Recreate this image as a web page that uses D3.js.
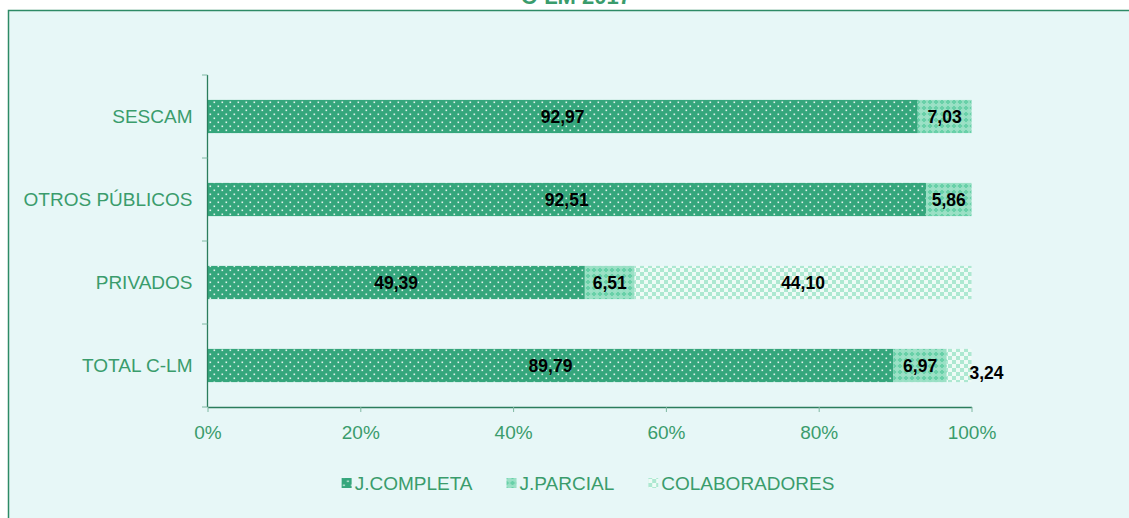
<!DOCTYPE html>
<html>
<head>
<meta charset="utf-8">
<script src="https://cdn.jsdelivr.net/npm/d3@7"></script>
<style>
  html, body { margin: 0; padding: 0; background: #ffffff; }
  svg { display: block; font-family: "Liberation Sans", Arial, sans-serif; }
</style>
</head>
<body>
<div id="chart"></div>
<script>
// data
const categories = ["SESCAM", "OTROS PÚBLICOS", "PRIVADOS", "TOTAL C-LM"];
const series = ["J.COMPLETA", "J.PARCIAL", "COLABORADORES"];
const completa = [92.97, 92.51, 49.39, 89.79];
const parcial = [7.03, 5.86, 6.51, 6.97];
const colaboradores = [0, 0, 44.10, 3.24];
const xTicks = [0, 20, 40, 60, 80, 100];
const title = "C-LM 2017";

const W = 1129, H = 518;
const green = "#3a9c6c";
const axisColor = "#2b7d5c";
const fontSize = 19;

const svg = d3.select("#chart").append("svg")
  .attr("width", W)
  .attr("height", H);

// patterns for the three series
const defs = svg.append("defs");

const p1 = defs.append("pattern").attr("id", "pat0")
  .attr("patternUnits", "userSpaceOnUse").attr("width", 8).attr("height", 8);
p1.append("rect").attr("width", 8).attr("height", 8).attr("fill", "#35a67c");
p1.append("rect").attr("x", 1.5).attr("y", 1.5).attr("width", 1.6).attr("height", 1.6).attr("fill", "#ffffff").attr("opacity", 0.85);
p1.append("rect").attr("x", 5.5).attr("y", 5.5).attr("width", 1.6).attr("height", 1.6).attr("fill", "#ffffff").attr("opacity", 0.85);

const p2 = defs.append("pattern").attr("id", "pat1")
  .attr("patternUnits", "userSpaceOnUse").attr("width", 6).attr("height", 6);
p2.append("rect").attr("width", 6).attr("height", 6).attr("fill", "#68d0a8");
p2.append("path").attr("d", "M3,0.5 L5.5,3 L3,5.5 L0.5,3 Z").attr("fill", "none").attr("stroke", "#c8f0e0").attr("stroke-width", 1);
p2.append("rect").attr("x", 2.4).attr("y", 2.4).attr("width", 1.2).attr("height", 1.2).attr("fill", "#ffffff");

const p3 = defs.append("pattern").attr("id", "pat2")
  .attr("patternUnits", "userSpaceOnUse").attr("width", 8).attr("height", 8);
p3.append("rect").attr("width", 8).attr("height", 8).attr("fill", "#eefbf6");
p3.append("rect").attr("x", 0).attr("y", 0).attr("width", 4).attr("height", 4).attr("fill", "#ade8d1");
p3.append("rect").attr("x", 4).attr("y", 4).attr("width", 4).attr("height", 4).attr("fill", "#ade8d1");

// chart frame
svg.append("rect")
  .attr("x", 8.5).attr("y", 10.5)
  .attr("width", W + 20).attr("height", H + 20)
  .attr("fill", "#e7f7f7")
  .attr("stroke", "#2e8a66")
  .attr("stroke-width", 1.5);

// title, cut by the top edge as in the source picture
svg.append("text")
  .attr("x", 576).attr("y", 4)
  .attr("text-anchor", "middle")
  .attr("font-size", 22).attr("font-weight", "bold")
  .attr("fill", green)
  .text(title);

// scales
const x = d3.scaleLinear().domain([0, 100]).range([207.5, 971.5]);
const y = d3.scaleBand().domain(categories).range([75, 407]).paddingInner(0.6).paddingOuter(0.3);

// stack, normalised to 100% per row
const rows = categories.map((c, i) => ({
  cat: c,
  "J.COMPLETA": completa[i],
  "J.PARCIAL": parcial[i],
  "COLABORADORES": colaboradores[i]
}));
const stacked = d3.stack().keys(series).offset(d3.stackOffsetExpand)(rows);

const barG = svg.append("g");
stacked.forEach((s, si) => {
  barG.selectAll(".seg" + si).data(s)
    .enter().append("rect")
    .attr("x", d => x(d[0] * 100))
    .attr("y", d => y(d.data.cat))
    .attr("width", d => x(d[1] * 100) - x(d[0] * 100))
    .attr("height", y.bandwidth())
    .attr("fill", "url(#pat" + si + ")");
});

// axes
const xAxis = svg.append("g")
  .attr("transform", "translate(0," + 407 + ")")
  .call(d3.axisBottom(x).tickValues(xTicks).tickFormat(d => d + "%").tickSize(5).tickPadding(14).tickSizeOuter(0));
xAxis.select(".domain").attr("stroke", axisColor).attr("stroke-width", 1.3);
xAxis.selectAll(".tick line").attr("stroke", "#7fb8a2");
xAxis.selectAll("text").attr("fill", green).attr("font-size", fontSize).attr("font-family", "Liberation Sans, Arial, sans-serif");

const yAxis = svg.append("g")
  .attr("transform", "translate(" + 207.5 + ",0)")
  .call(d3.axisLeft(y).tickSize(0).tickPadding(15).tickSizeOuter(0));
yAxis.select(".domain").remove();
yAxis.selectAll("text").attr("fill", green).attr("font-size", fontSize).attr("font-family", "Liberation Sans, Arial, sans-serif");

// y axis line and category boundary ticks
const yEdges = categories.map(c => y(c) - y.step() * y.paddingInner() / 2).concat([y.range()[1]]);
svg.append("line")
  .attr("x1", 207.5).attr("x2", 207.5)
  .attr("y1", y.range()[0]).attr("y2", y.range()[1])
  .attr("stroke", axisColor).attr("stroke-width", 1.3);
svg.selectAll(".ytick").data(yEdges)
  .enter().append("line")
  .attr("x1", 202).attr("x2", 207.5)
  .attr("y1", d => d).attr("y2", d => d)
  .attr("stroke", "#7fb8a2");

// value labels
const labelG = svg.append("g");
stacked.forEach((s, si) => {
  s.forEach((d, i) => {
    const raw = rows[i][series[si]];
    if (!raw) return;
    const x0 = x(d[0] * 100), x1 = x(d[1] * 100);
    const txt = labelG.append("text")
      .attr("font-size", 17.5).attr("font-weight", "bold")
      .attr("fill", "#000000")
      .text(d3.format(".2f")(raw).replace(".", ","));
    const tw = txt.node().getComputedTextLength();
    const cy = y(d.data.cat) + y.bandwidth() / 2;
    if (tw > x1 - x0) {
      // too narrow: push label out past the bar end
      txt.attr("x", x1 - 2).attr("y", cy + 7).attr("dy", "0.35em").attr("text-anchor", "start");
    } else {
      txt.attr("x", (x0 + x1) / 2).attr("y", cy).attr("dy", "0.35em").attr("text-anchor", "middle");
    }
  });
});

// legend
const legend = svg.append("g").attr("transform", "translate(0,483)");
const items = legend.selectAll(".item").data(series).enter().append("g");
items.append("rect")
  .attr("y", -5).attr("width", 10).attr("height", 10)
  .attr("fill", (d, i) => "url(#pat" + i + ")");
items.append("text")
  .attr("x", 13).attr("dy", "0.35em")
  .attr("font-size", fontSize).attr("fill", green)
  .text(d => d);
let widths = [];
items.each(function () { widths.push(13 + d3.select(this).select("text").node().getComputedTextLength()); });
const gap = 34;
const total = d3.sum(widths) + gap * (widths.length - 1);
let lx = 588 - total / 2;
items.attr("transform", (d, i) => {
  const t = "translate(" + lx + ",0)";
  lx += widths[i] + gap;
  return t;
});
</script>
</body>
</html>
